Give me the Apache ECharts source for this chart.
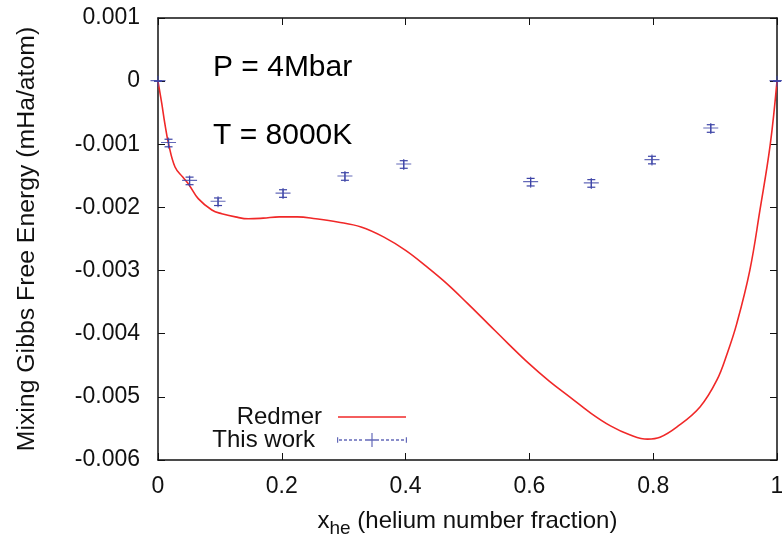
<!DOCTYPE html>
<html>
<head>
<meta charset="utf-8">
<script src="https://cdn.jsdelivr.net/npm/echarts@6/dist/echarts.min.js"></script>
<style>
  html, body { margin: 0; padding: 0; background: #fff; }
  #chart { width: 782px; height: 538px; }
</style>
</head>
<body>
<div id="chart"></div>
<script>
// Redmer mixing free energy curve
const redmerX = [0, 0.006, 0.011, 0.017, 0.0275, 0.04, 0.05, 0.065, 0.087, 0.103, 0.125, 0.146, 0.17, 0.196,
  0.225, 0.255, 0.29, 0.328, 0.365, 0.4, 0.433, 0.467, 0.5, 0.533, 0.566, 0.599, 0.632, 0.665, 0.698,
  0.731, 0.762, 0.791, 0.811, 0.838, 0.8756, 0.9026, 0.92, 0.935, 0.956, 0.9725, 0.989, 1];
const redmerY = [0, -0.00035, -0.00067, -0.00099, -0.00136, -0.00152, -0.00164, -0.00186, -0.00204, -0.0021,
  -0.00215, -0.00218, -0.00217, -0.00215, -0.00215, -0.00218, -0.00223, -0.00231, -0.00247, -0.00268,
  -0.00293, -0.00321, -0.00352, -0.00384, -0.00416, -0.00447, -0.00475, -0.005, -0.00525, -0.00546,
  -0.00560, -0.00567, -0.00564, -0.00548, -0.00516, -0.00474, -0.00430, -0.00384, -0.003, -0.00204,
  -0.00101, 0];

// This work: computed points and their uncertainties
const workX = [0, 0.017, 0.051, 0.097, 0.202, 0.302, 0.397, 0.602, 0.70, 0.798, 0.893, 1];
const workY = [0, -0.00098, -0.00158, -0.00191, -0.00178, -0.00151, -0.00132, -0.0016, -0.00162, -0.00125, -0.00075, 0];
const workErr = [0, 0.00006, 0.00006, 0.00006, 0.00006, 0.00006, 0.00006, 0.00006, 0.00006, 0.00006, 0.00006, 0];

// Axis ranges
const xRange = { min: 0, max: 1, step: 0.2 };
const yRange = { min: -0.006, max: 0.001, step: 0.001 };

const FONT = 'Liberation Sans, Arial, Helvetica, sans-serif';
const RED = '#f02828';
const BLUE = '#3c43a6';

const redmerData = redmerX.map((x, i) => [x, redmerY[i]]);
const workData = workX.map((x, i) => [x, workY[i]]);
const errData = workX.map((x, i) => [x, workY[i], workErr[i]]);

// plus marker
const plusPath = 'path://M0,4.4H15V5.6H0Z M6.9,0H8.1V11H6.9Z';

// legend sample: dashed line with a plus in the middle and end caps
function dashedPlusIcon() {
  let p = 'path://M0,4.5H1.2V9.5H0Z M68.8,4.5H70V9.5H68.8Z ';
  for (let x = 2; x < 27; x += 5) p += 'M' + x + ',6.4H' + (x + 3) + 'V7.6H' + x + 'Z ';
  p += 'M28,6.4H42V7.6H28Z M34.4,0.5H35.6V13.5H34.4Z ';
  for (let x = 44; x < 67; x += 5) p += 'M' + x + ',6.4H' + Math.min(x + 3, 68) + 'V7.6H' + x + 'Z ';
  return p;
}

const axisCommon = {
  axisLine: { show: true, onZero: false, lineStyle: { color: '#111', width: 1.5 } },
  axisTick: { show: true, inside: true, length: 7, lineStyle: { color: '#111', width: 1 } },
  splitLine: { show: false }
};

const chart = echarts.init(document.getElementById('chart'), null, { renderer: 'canvas' });
chart.setOption({
  animation: false,
  backgroundColor: '#fff',
  grid: { left: 158, right: 5, top: 18, bottom: 78, containLabel: false, outerBoundsMode: 'none' },
  xAxis: [
    Object.assign({
      type: 'value', position: 'bottom', min: xRange.min, max: xRange.max, interval: xRange.step,
      axisLabel: { color: '#111', fontFamily: FONT, fontSize: 23, margin: 15 },
      name: '{a|x}{s|he}{a| (helium number fraction)}',
      nameLocation: 'middle', nameGap: 45,
      nameTextStyle: {
        fontFamily: FONT, color: '#111',
        rich: {
          a: { fontFamily: FONT, fontSize: 24, color: '#111' },
          s: { fontFamily: FONT, fontSize: 19, color: '#111', padding: [14, 0, 0, 0] }
        }
      }
    }, axisCommon),
    Object.assign({
      type: 'value', position: 'top', min: xRange.min, max: xRange.max, interval: xRange.step,
      axisLabel: { show: false }
    }, axisCommon)
  ],
  yAxis: [
    Object.assign({
      type: 'value', position: 'left', min: yRange.min, max: yRange.max, interval: yRange.step,
      axisLabel: { color: '#111', fontFamily: FONT, fontSize: 23, margin: 18 },
      name: 'Mixing Gibbs Free Energy (mHa/atom)',
      nameLocation: 'middle', nameGap: 118, nameRotate: 90,
      nameTextStyle: { fontFamily: FONT, fontSize: 24.8, color: '#111' }
    }, axisCommon),
    Object.assign({
      type: 'value', position: 'right', min: yRange.min, max: yRange.max, interval: yRange.step,
      axisLabel: { show: false }
    }, axisCommon)
  ],
  legend: [
    {
      data: [{ name: 'Redmer', icon: 'path://M0,0H68V1.6H0Z' }],
      right: 376, top: 405, align: 'right', padding: 0,
      itemWidth: 68, itemHeight: 1.6, symbolKeepAspect: false,
      selectedMode: false,
      textStyle: { fontFamily: FONT, fontSize: 24, color: '#111', padding: [0, 11, 0, 0] }
    },
    {
      data: [{ name: 'This work', icon: dashedPlusIcon() }],
      right: 375, top: 428, align: 'right', padding: 0,
      itemWidth: 70, itemHeight: 14, symbolKeepAspect: false,
      selectedMode: false,
      textStyle: { fontFamily: FONT, fontSize: 24, color: '#111', padding: [0, 17, 0, 0] }
    }
  ],
  graphic: [
    { type: 'text', left: 213, top: 53, style: { text: 'P = 4Mbar', font: '30px ' + FONT, fill: '#000' } },
    { type: 'text', left: 213, top: 121, style: { text: 'T = 8000K', font: '30px ' + FONT, fill: '#000' } }
  ],
  series: [
    {
      name: 'Redmer', type: 'line', data: redmerData,
      smooth: 0.4, showSymbol: false, symbol: 'none',
      lineStyle: { color: RED, width: 1.6 }, itemStyle: { color: RED }, z: 2
    },
    {
      name: 'This work', type: 'scatter', data: workData,
      symbol: plusPath, symbolSize: [15, 11],
      itemStyle: { color: BLUE }, z: 3
    },
    {
      type: 'custom', data: errData, z: 3,
      renderItem: function (params, api) {
        const x = api.value(0), y = api.value(1), e = api.value(2);
        const t = api.coord([x, y + e]);
        const b = api.coord([x, y - e]);
        const hw = 4;
        const st = { stroke: BLUE, lineWidth: 1.2 };
        return {
          type: 'group',
          children: [
            { type: 'line', shape: { x1: t[0], y1: t[1], x2: b[0], y2: b[1] }, style: st },
            { type: 'line', shape: { x1: t[0] - hw, y1: t[1], x2: t[0] + hw, y2: t[1] }, style: st },
            { type: 'line', shape: { x1: b[0] - hw, y1: b[1], x2: b[0] + hw, y2: b[1] }, style: st }
          ]
        };
      }
    }
  ]
});
</script>
</body>
</html>
